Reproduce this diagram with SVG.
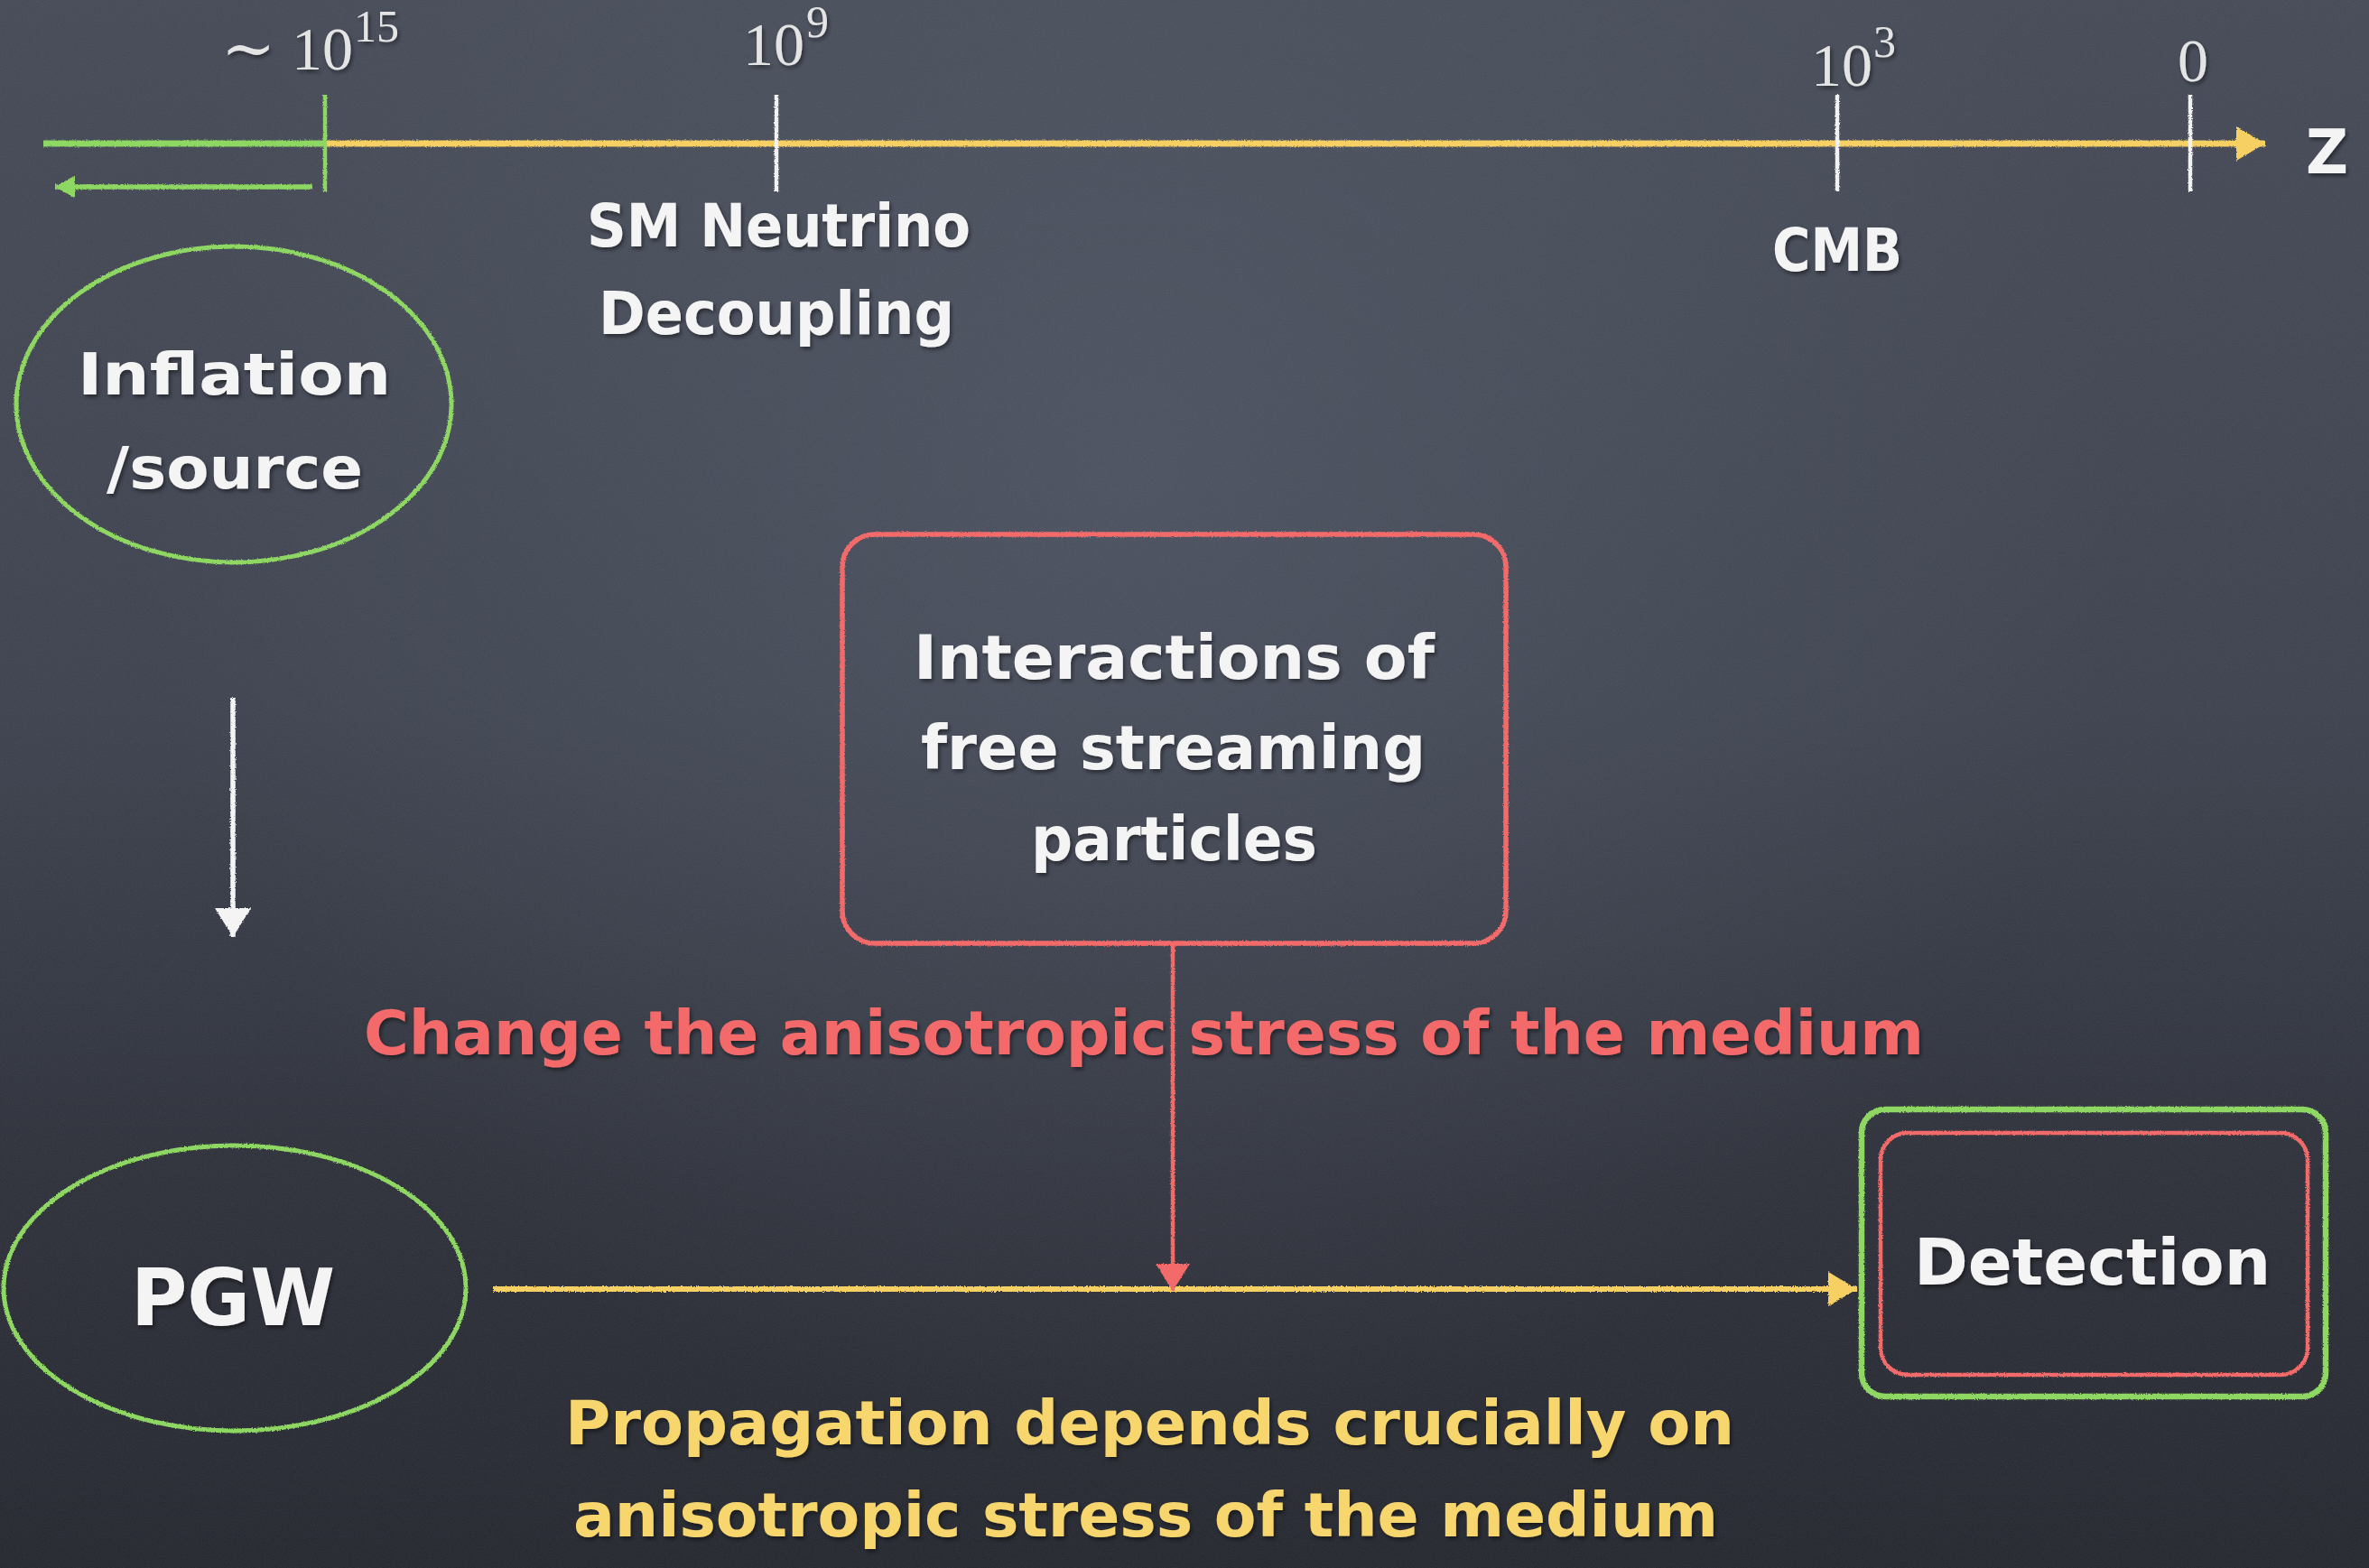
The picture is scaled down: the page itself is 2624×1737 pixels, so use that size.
<svg xmlns="http://www.w3.org/2000/svg" width="2624" height="1737" viewBox="0 0 2624 1737">
<defs>
  <linearGradient id="bg" x1="0" y1="0" x2="0" y2="1">
    <stop offset="0" stop-color="#434854"/>
    <stop offset="0.45" stop-color="#3b404c"/>
    <stop offset="0.75" stop-color="#2b2e37"/>
    <stop offset="1" stop-color="#22252c"/>
  </linearGradient>
  <radialGradient id="glow" cx="1250" cy="520" r="1100" gradientUnits="userSpaceOnUse">
    <stop offset="0" stop-color="#5a6070" stop-opacity="0.45"/>
    <stop offset="1" stop-color="#5a6070" stop-opacity="0"/>
  </radialGradient>
  <filter id="noise" x="0" y="0" width="100%" height="100%">
    <feTurbulence type="fractalNoise" baseFrequency="0.9" numOctaves="2" seed="3" result="n"/>
    <feColorMatrix type="matrix" values="0 0 0 0 0.6  0 0 0 0 0.62  0 0 0 0 0.7  0 0 0 0.10 0"/>
  </filter>
  <filter id="chalk" x="-5%" y="-5%" width="110%" height="110%">
    <feTurbulence type="fractalNoise" baseFrequency="0.7" numOctaves="2" seed="7" result="t"/>
    <feDisplacementMap in="SourceGraphic" in2="t" scale="3" xChannelSelector="R" yChannelSelector="G"/>
  </filter>
  <filter id="shadow" x="-5%" y="-20%" width="110%" height="140%">
    <feDropShadow dx="2" dy="3" stdDeviation="2" flood-color="#000" flood-opacity="0.45"/>
  </filter>
  <marker id="ahY" markerUnits="userSpaceOnUse" markerWidth="34" markerHeight="40" refX="32" refY="19" orient="auto">
    <path d="M0,0 L32,19 L0,38 z" fill="#f6d063"/>
  </marker>
  <marker id="ahW" markerUnits="userSpaceOnUse" markerWidth="36" markerHeight="42" refX="32" refY="20" orient="auto">
    <path d="M0,0 L32,20 L0,40 z" fill="#f4f4f4"/>
  </marker>
  <marker id="ahR" markerUnits="userSpaceOnUse" markerWidth="34" markerHeight="40" refX="30" refY="19" orient="auto">
    <path d="M0,0 L30,19 L0,38 z" fill="#f36b6b"/>
  </marker>
  <marker id="ahG" markerUnits="userSpaceOnUse" markerWidth="26" markerHeight="28" refX="22" refY="12.5" orient="auto">
    <path d="M0,0 L22,12.5 L0,25 z" fill="#8fd764"/>
  </marker>
</defs>
<style>
  .chalk { font-family: "DejaVu Sans", "Liberation Sans", sans-serif; font-weight: bold; }
  .w { fill: #f4f4f4; }
  .y { fill: #f8d66e; }
  .r { fill: #f46a6a; }
  .math { font-family: "Liberation Serif", "DejaVu Serif", serif; fill: #e4e4e4; }
  .tick { stroke: #f2f2f2; stroke-width: 4.5; fill: none; }
  .green { stroke: #8fd764; fill: none; }
  .red { stroke: #f36b6b; fill: none; }
  .yellow { stroke: #f6d063; fill: none; }
</style>

<rect width="2624" height="1737" fill="url(#bg)"/>
<rect width="2624" height="1737" fill="url(#glow)"/>
<rect width="2624" height="1737" filter="url(#noise)"/>

<g id="axis" filter="url(#chalk)">
  <line class="green" x1="48" y1="159" x2="360" y2="159" stroke-width="7"/>
  <line class="yellow" x1="360" y1="159" x2="2509" y2="159" stroke-width="7" marker-end="url(#ahY)"/>
  <line class="green" x1="360" y1="105" x2="360" y2="212" stroke-width="4.5"/>
  <line class="tick" x1="860" y1="105" x2="860" y2="212"/>
  <line class="tick" x1="2035" y1="105" x2="2035" y2="212"/>
  <line class="tick" x1="2426" y1="105" x2="2426" y2="212"/>
</g>

<g id="axis-labels" filter="url(#shadow)">
  <text class="math" x="245" y="78" font-size="72">∼</text>
  <text class="math" x="323" y="77" font-size="68">10</text>
  <text class="math" x="392" y="46" font-size="50">15</text>
  <text class="math" x="823" y="72" font-size="68">10</text>
  <text class="math" x="893" y="41" font-size="50">9</text>
  <text class="math" x="2006" y="95" font-size="68">10</text>
  <text class="math" x="2075" y="63" font-size="50">3</text>
  <text class="math" x="2412" y="90" font-size="68">0</text>
  <text class="chalk w" x="2554" y="192" font-size="68" textLength="47" lengthAdjust="spacingAndGlyphs">Z</text>
  <text class="chalk w" x="650" y="273" font-size="66" textLength="425" lengthAdjust="spacingAndGlyphs">SM Neutrino</text>
  <text class="chalk w" x="663" y="370" font-size="66" textLength="394" lengthAdjust="spacingAndGlyphs">Decoupling</text>
  <text class="chalk w" x="1963" y="300" font-size="66" textLength="144" lengthAdjust="spacingAndGlyphs">CMB</text>
</g>

<g id="connectors" filter="url(#chalk)">
  <line class="green" x1="346" y1="207" x2="61" y2="207" stroke-width="5.5" marker-end="url(#ahG)"/>
  <line x1="258" y1="773" x2="258" y2="1038" stroke="#f4f4f4" stroke-width="5.5" marker-end="url(#ahW)"/>
  <line class="yellow" x1="546" y1="1428" x2="2057" y2="1428" stroke-width="6" marker-end="url(#ahY)"/>
  <line class="red" x1="1299" y1="1047" x2="1299" y2="1430" stroke-width="4.5" marker-end="url(#ahR)"/>
</g>

<g id="inflation">
  <ellipse class="green" cx="259" cy="448" rx="241" ry="175" stroke-width="5" filter="url(#chalk)"/>
  <g filter="url(#shadow)">
    <text class="chalk w" x="86" y="437" font-size="64" textLength="347" lengthAdjust="spacingAndGlyphs">Inflation</text>
    <text class="chalk w" x="118" y="541" font-size="64" textLength="284" lengthAdjust="spacingAndGlyphs">/source</text>
  </g>
</g>

<g id="interactions">
  <rect class="red" x="933" y="592" width="735" height="453" rx="36" stroke-width="5.5" filter="url(#chalk)"/>
  <g filter="url(#shadow)">
    <text class="chalk w" x="1012" y="752" font-size="67" textLength="577" lengthAdjust="spacingAndGlyphs">Interactions of</text>
    <text class="chalk w" x="1020" y="852" font-size="67" textLength="559" lengthAdjust="spacingAndGlyphs">free streaming</text>
    <text class="chalk w" x="1142" y="953" font-size="67" textLength="317" lengthAdjust="spacingAndGlyphs">particles</text>
  </g>
</g>

<g id="change-label" filter="url(#shadow)">
  <text class="chalk r" x="403" y="1168" font-size="68" textLength="1728" lengthAdjust="spacingAndGlyphs">Change the anisotropic stress of the medium</text>
</g>

<g id="pgw">
  <ellipse class="green" cx="260" cy="1427" rx="256" ry="158" stroke-width="5" filter="url(#chalk)"/>
  <text class="chalk w" x="145" y="1468" font-size="88" textLength="226" lengthAdjust="spacingAndGlyphs" filter="url(#shadow)">PGW</text>
</g>

<g id="detection">
  <rect class="green" x="2062" y="1229" width="514" height="318" rx="26" stroke-width="6.5" filter="url(#chalk)"/>
  <rect class="red" x="2083" y="1255" width="473" height="268" rx="30" stroke-width="4.5" filter="url(#chalk)"/>
  <text class="chalk w" x="2120" y="1423" font-size="72" textLength="395" lengthAdjust="spacingAndGlyphs" filter="url(#shadow)">Detection</text>
</g>

<g id="propagation-label" filter="url(#shadow)">
  <text class="chalk y" x="626" y="1600" font-size="68" textLength="1295" lengthAdjust="spacingAndGlyphs">Propagation depends crucially on</text>
  <text class="chalk y" x="635" y="1702" font-size="68" textLength="1268" lengthAdjust="spacingAndGlyphs">anisotropic stress of the medium</text>
</g>
</svg>
